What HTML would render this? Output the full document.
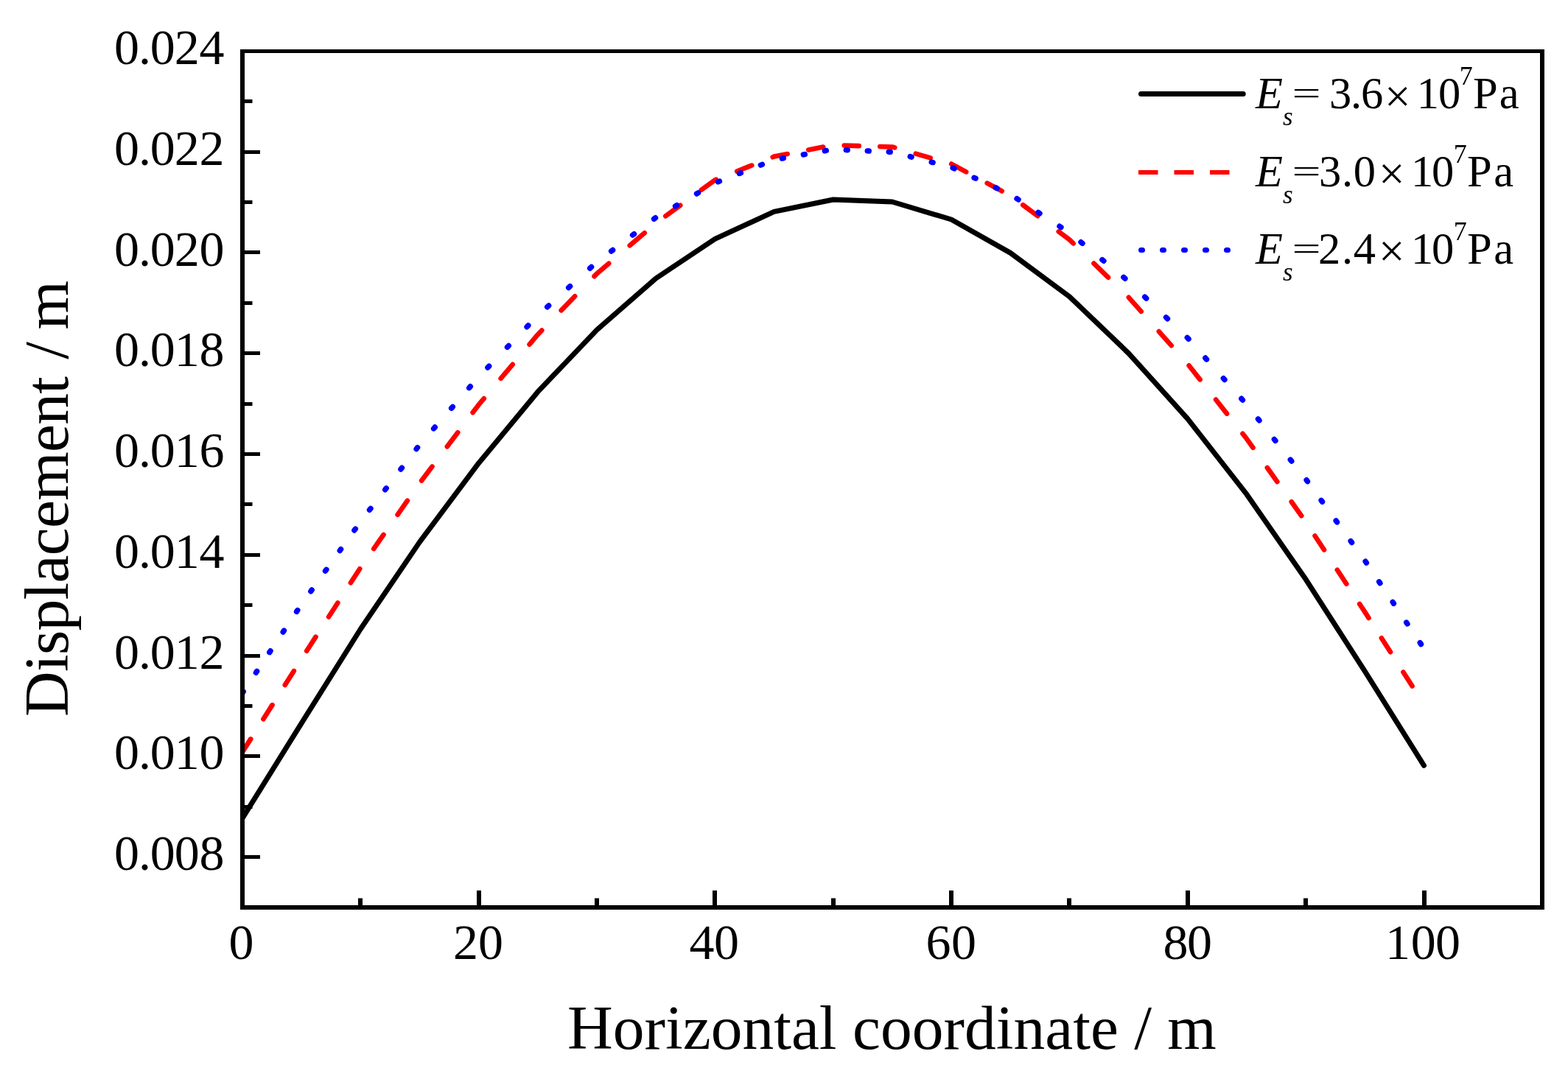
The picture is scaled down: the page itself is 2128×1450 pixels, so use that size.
<!DOCTYPE html>
<html><head><meta charset="utf-8"><title>Displacement chart</title><style>html,body{margin:0;padding:0;background:#fff;overflow:hidden}svg{display:block}</style></head><body>
<svg width="2128" height="1450" viewBox="0 0 2128 1450">
<rect x="0" y="0" width="2128" height="1450" fill="#fff"/>
<defs><clipPath id="pc"><rect x="329" y="69.5" width="1764" height="1162.5"/></clipPath></defs>
<g clip-path="url(#pc)" fill="none" stroke-linejoin="round">
<path d="M329 1111 L409.18 981.8 L489.35 854 L569.52 735.9 L649.7 628.7 L729.88 531.9 L810.05 447.8 L890.23 377.9 L970.4 324.4 L1050.58 287.4 L1130.75 271 L1210.92 274 L1291.1 298 L1371.28 343.4 L1451.45 402.8 L1531.62 479.6 L1611.8 568.6 L1691.97 671.2 L1772.15 786.6 L1852.33 911.3 L1932.5 1039.3" stroke="#000" stroke-width="7" stroke-linecap="round"/>
<path d="M329 1021 L340.19 1003.36 M357.42 976.2 L369.51 957.13 M386.75 929.96 L398.84 910.9 M416.2 883.73 L428.52 864.66 M446.07 837.49 L458.39 818.43 M475.94 791.26 L488.26 772.19 M507.19 745.02 L520.54 725.96 M539.56 698.79 L552.91 679.72 M572.12 652.55 L586.46 633.49 M606.89 606.32 L621.23 587.25 M641.66 560.08 L649.7 549.4 L656.76 541.02 M679.64 513.85 L695.7 494.78 M718.58 467.62 L729.88 454.2 L735.35 448.55 M761.69 421.38 L780.18 402.32 M806.51 375.15 L810.05 371.5 L826.22 357.66 M854.72 333.28 L874.72 316.16 M903.22 293.4 L923.22 278.78 M951.72 257.95 L970.4 244.3 L971.72 243.77 M1000.22 232.47 L1020.22 224.54 M1048.72 213.23 L1050.58 212.5 L1068.72 208.99 M1097.22 203.48 L1117.22 199.61 M1145.72 197.47 L1165.72 198.09 M1194.22 198.98 L1210.92 199.5 L1214.22 200.45 M1242.72 208.62 L1262.72 214.36 M1291.22 222.57 L1311.22 233.32 M1339.72 248.64 L1359.72 259.39 M1388.22 278.24 L1408.22 293.16 M1436.72 314.42 L1451.45 325.4 L1456.61 330.43 M1484.46 357.6 L1504.01 376.66 M1531.83 403.83 L1548.74 422.9 M1572.84 450.07 L1589.74 469.13 M1613.61 496.3 L1628.63 515.37 M1650.02 542.53 L1665.04 561.6 M1686.44 588.77 L1691.97 595.8 L1700.53 607.84 M1719.84 635 L1733.39 654.07 M1752.7 681.24 L1766.25 700.3 M1784.52 727.47 L1797.02 746.54 M1814.83 773.71 L1827.33 792.77 M1845.14 819.94 L1852.33 830.9 L1857.5 839.01 M1874.86 866.18 L1887.04 885.24 M1904.4 912.41 L1916.58 931.48" stroke="#f00" stroke-width="6.6" stroke-linecap="round"/>
<path d="M329 940.9 L330.27 938.99 M347.39 913.28 L348.66 911.38 M365.78 885.67 L367.05 883.76 M384.17 858.05 L385.44 856.14 M402.56 830.43 L403.83 828.53 M421.8 802.82 L423.16 800.91 M441.52 775.2 L442.88 773.29 M461.23 747.58 L462.59 745.68 M480.95 719.97 L482.31 718.06 M501.52 692.35 L502.99 690.44 M522.73 664.73 L524.2 662.83 M543.94 637.12 L545.4 635.21 M565.15 609.5 L566.61 607.59 M588.61 581.88 L590.26 579.98 M612.65 554.27 L614.31 552.36 M636.69 526.65 L638.35 524.74 M661.89 499.03 L663.73 497.12 M688.47 471.41 L690.31 469.51 M715.05 443.8 L716.89 441.89 M742.69 416.79 L744.69 414.98 M771.66 390.56 L773.66 388.75 M800.63 364.33 L802.63 362.52 M829.6 341.02 L831.6 339.51 M858.57 319.12 L860.57 317.61 M887.54 297.23 L889.54 295.72 M916.51 279.89 L918.51 278.72 M945.48 263.01 L947.48 261.85 M974.45 246.91 L976.45 246.12 M1003.42 235.53 L1005.42 234.74 M1032.39 224.14 L1034.39 223.36 M1061.36 215.09 L1063.36 214.74 M1090.33 209.96 L1092.33 209.6 M1119.3 204.83 L1121.3 204.47 M1148.27 203.59 L1150.27 203.68 M1177.24 204.89 L1179.24 204.98 M1206.21 206.19 L1208.21 206.28 M1235.18 212.63 L1237.18 213.15 M1264.15 220.08 L1266.15 220.59 M1293.12 227.93 L1295.12 228.86 M1322.09 241.3 L1324.09 242.23 M1351.06 254.67 L1353.06 255.6 M1380.03 269.68 L1382.03 270.98 M1409 288.47 L1411 289.77 M1437.97 307.26 L1439.97 308.56 M1466.94 328.75 L1468.94 330.4 M1495.91 352.6 L1497.91 354.25 M1524.88 376.45 L1526.88 378.1 M1553.72 403.19 L1555.7 405.1 M1582.51 430.81 L1584.5 432.71 M1611.3 458.42 L1611.8 458.9 L1613.07 460.33 M1635.84 486.04 L1637.53 487.95 M1660.31 513.66 L1662 515.56 M1684.78 541.27 L1686.46 543.18 M1707.45 568.89 L1708.96 570.8 M1729.37 596.51 L1730.88 598.41 M1751.29 624.12 L1752.8 626.03 M1773.12 651.74 L1774.5 653.65 M1793.14 679.36 L1794.52 681.26 M1813.16 706.97 L1814.54 708.88 M1833.18 734.59 L1834.56 736.5 M1853.14 762.21 L1854.41 764.11 M1871.66 789.82 L1872.94 791.73 M1890.19 817.44 L1891.47 819.35 M1908.72 845.06 L1910 846.96 M1927.25 872.67 L1928.53 874.58" stroke="#00f" stroke-width="7.4" stroke-linecap="round"/>
</g>
<g fill="#000">
<rect x="326" y="67" width="6" height="1168"/>
<rect x="2090" y="67" width="6" height="1168"/>
<rect x="326" y="67" width="1770" height="5"/>
<rect x="326" y="1229" width="1770" height="6"/>
<rect x="332" y="1161" width="21" height="5"/>
<rect x="332" y="1093" width="10.5" height="5"/>
<rect x="332" y="1024" width="21" height="5"/>
<rect x="332" y="956" width="10.5" height="5"/>
<rect x="332" y="888" width="21" height="5"/>
<rect x="332" y="819" width="10.5" height="5"/>
<rect x="332" y="751" width="21" height="5"/>
<rect x="332" y="682" width="10.5" height="5"/>
<rect x="332" y="614" width="21" height="5"/>
<rect x="332" y="546" width="10.5" height="5"/>
<rect x="332" y="477" width="21" height="5"/>
<rect x="332" y="409" width="10.5" height="5"/>
<rect x="332" y="340" width="21" height="5"/>
<rect x="332" y="272" width="10.5" height="5"/>
<rect x="332" y="204" width="21" height="5"/>
<rect x="332" y="135" width="10.5" height="5"/>
<rect x="486" y="1219.5" width="6" height="9.5"/>
<rect x="647" y="1209" width="6" height="20"/>
<rect x="807" y="1219.5" width="6" height="9.5"/>
<rect x="967" y="1209" width="6" height="20"/>
<rect x="1128" y="1219.5" width="6" height="9.5"/>
<rect x="1288" y="1209" width="6" height="20"/>
<rect x="1448" y="1219.5" width="6" height="9.5"/>
<rect x="1609" y="1209" width="6" height="20"/>
<rect x="1769" y="1219.5" width="6" height="9.5"/>
<rect x="1930" y="1209" width="6" height="20"/>
</g>
<g font-family="'Liberation Serif', 'Times New Roman', serif" font-size="68" fill="#000">
<text x="154.9 188 203.8 236.8 270.5" y="1181">0.008</text>
<text x="154.9 188 203.8 236.8 270.5" y="1044.25">0.010</text>
<text x="154.9 188 203.8 236.8 270.5" y="907.5">0.012</text>
<text x="154.9 188 203.8 236.8 270.5" y="770.75">0.014</text>
<text x="154.9 188 203.8 236.8 270.5" y="634">0.016</text>
<text x="154.9 188 203.8 236.8 270.5" y="497.25">0.018</text>
<text x="154.9 188 203.8 236.8 270.5" y="360.5">0.020</text>
<text x="154.9 188 203.8 236.8 270.5" y="223.75">0.022</text>
<text x="154.9 188 203.8 236.8 270.5" y="87">0.024</text>
<text x="310.5" y="1302">0</text>
<text x="615 648.9" y="1302">20</text>
<text x="935.5 969" y="1302">40</text>
<text x="1256.4 1290.9" y="1302">60</text>
<text x="1578.4 1610.9" y="1302">80</text>
<text x="1880 1914.7 1947.9" y="1302">100</text>
</g>
<text font-family="'Liberation Serif', 'Times New Roman', serif" font-size="85.5" x="770" y="1424">Horizontal coordinate / m</text>
<text font-family="'Liberation Serif', 'Times New Roman', serif" font-size="85.5" transform="translate(92 973) rotate(-90)" letter-spacing="-0.74">Displacement <tspan dx="3.5">/</tspan><tspan dx="-3.5"> m</tspan></text>
<g fill="none">
<path d="M1548.5 127.5 L1687.2 127.5" stroke="#000" stroke-width="7" stroke-linecap="round"/>
<path d="M1545 234 L1571.5 234 M1593.5 234 L1620 234 M1642 234 L1668.5 234" stroke="#f00" stroke-width="6"/>
<path d="M1548.5 339.4 L1687.2 339.4" stroke="#00f" stroke-width="7" stroke-linecap="round" stroke-dasharray="2 27"/>
</g>
<g font-family="'Liberation Serif', 'Times New Roman', serif" fill="#000">
<text y="146.9" font-size="60.5" font-style="italic"><tspan x="1704">E</tspan><tspan x="1741" y="169.9" font-size="35">s</tspan></text>
<text x="1753.9" y="146.9" font-size="60.5" transform="translate(1757 125.4) scale(1.146 0.733) translate(-1757 -125.4)">= </text>
<text y="146.9" font-size="60.5"><tspan x="1804 1833 1846.9">3.6</tspan><tspan x="1879" y="151.5" font-size="63">×</tspan><tspan x="1922.8 1951.9" y="146.9">10</tspan><tspan x="1980.8" y="114.9" font-size="36">7</tspan><tspan x="1998.9 2034.8" y="146.9">Pa</tspan></text>
<text y="252.7" font-size="60.5" font-style="italic"><tspan x="1704">E</tspan><tspan x="1741" y="275.7" font-size="35">s</tspan></text>
<text x="1753.9" y="252.7" font-size="60.5" transform="translate(1757 231.2) scale(1.146 0.733) translate(-1757 -231.2)">=</text>
<text y="252.7" font-size="60.5"><tspan x="1789.9 1820.9 1836.8">3.0</tspan><tspan x="1871" y="257.3" font-size="63">×</tspan><tspan x="1915 1942.9" y="252.7">10</tspan><tspan x="1972.8" y="220.7" font-size="36">7</tspan><tspan x="1991 2027.2" y="252.7">Pa</tspan></text>
<text y="357.7" font-size="60.5" font-style="italic"><tspan x="1704">E</tspan><tspan x="1741" y="380.7" font-size="35">s</tspan></text>
<text x="1753.9" y="357.7" font-size="60.5" transform="translate(1757 336.2) scale(1.146 0.733) translate(-1757 -336.2)">=</text>
<text y="357.7" font-size="60.5"><tspan x="1789 1820.9 1836.8">2.4</tspan><tspan x="1871" y="362.3" font-size="63">×</tspan><tspan x="1915 1942.9" y="357.7">10</tspan><tspan x="1972.8" y="325.7" font-size="36">7</tspan><tspan x="1991 2027.2" y="357.7">Pa</tspan></text>
</g>
</svg>
</body></html>
